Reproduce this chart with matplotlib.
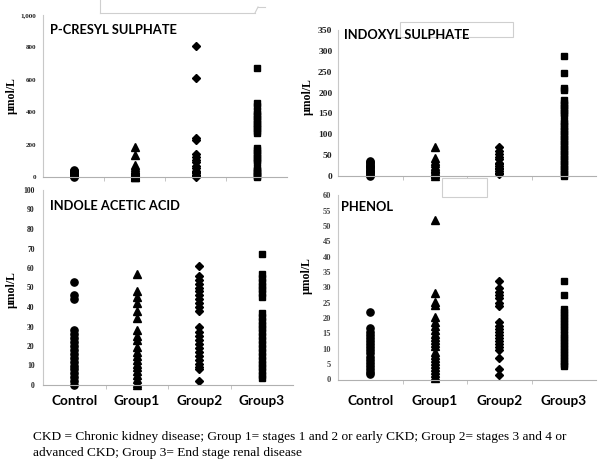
import matplotlib
matplotlib.use("Agg")
import matplotlib.pyplot as plt
from matplotlib.ticker import FuncFormatter, MultipleLocator
from matplotlib.patches import Rectangle
from matplotlib.lines import Line2D

W, H = 604, 459

groups = ["Control", "Group1", "Group2", "Group3"]

# P-cresyl sulphate (umol/L)
pcs_control = [2, 5, 8, 10, 14, 18, 22, 25, 30, 34, 38, 42]
pcs_group1 = [185, 138, 72, 60, 50, 42, 35, 28, 22, 16, 10, 5, 2, 0]
pcs_group2 = [808, 610, 240, 228, 140, 125, 108, 95, 70, 55, 40, 30, 22, 15, 8, 3]
pcs_group3 = [670, 455, 440, 405, 390, 375, 360, 345, 330, 315, 300, 285, 272,
              178, 165, 150, 135, 120, 105, 90, 58, 45, 35, 25, 15, 5, 0]

# Indoxyl sulphate
ind_control = [0, 3, 6, 9, 12, 15, 18, 21, 24, 27, 30, 33, 35]
ind_group1 = [70, 42, 36, 30, 25, 20, 16, 12, 8, 4, 0]
ind_group2 = [70, 60, 52, 46, 40, 32, 28, 24, 20, 16, 12, 8, 5]
ind_group3 = [288, 247, 210, 205, 182, 176, 170, 164, 158, 152, 146, 133, 127,
              121, 113, 107, 101, 95, 89, 83, 77, 71, 65, 59, 53, 47, 41, 35,
              29, 23, 17, 11, 5, 0]

# Indole acetic acid
iaa_control = [53, 46, 44, 28, 26, 24, 22, 20, 18, 16, 14, 12, 10, 8, 6, 4, 2, 0]
iaa_group1 = [57, 48, 45, 42, 38, 34.5, 28, 25, 23, 19.5, 17, 15, 13, 11, 9, 7,
              5, 3, 1, 0]
iaa_group2 = [61, 56, 54, 52, 50, 48, 46, 44, 42, 40, 38, 30, 27, 25, 23, 21,
              19, 17, 15, 13, 11, 9, 8, 2]
iaa_group3 = [67, 57, 55, 53, 51, 49, 47, 45, 37, 35, 33, 31, 29, 27, 25, 23,
              21, 19, 17, 15, 13, 11, 9, 7, 5, 3.5]

# Phenol
phe_control = [22, 16.7, 15.5, 14.5, 13.5, 12.5, 11.5, 10.5, 9.5, 8.5, 7.5,
               6.5, 5.5, 4.5, 3.5, 2.5, 1.8]
phe_group1 = [52, 28.3, 25.4, 24.3, 20.5, 18.8, 17.5, 16, 15, 14, 13, 12, 11,
              9, 8, 7, 6, 5, 4, 3, 2, 1, 0.5]
phe_group2 = [32, 29.7, 28.5, 27.5, 26.5, 25, 24, 18.8, 17.5, 16.5, 15.5, 14.5,
              13.5, 12.5, 11.5, 10.5, 9.6, 6.9, 3.3, 1.5]
phe_group3 = [32, 27.5, 23, 22, 21, 20, 19, 18, 17, 16, 15, 14, 13, 12, 11, 10,
              9, 8, 7, 6, 5, 4.5]

caption = ["CKD = Chronic kidney disease; Group 1= stages 1 and 2 or early CKD; "
           "Group 2= stages 3 and 4 or",
           "advanced CKD; Group 3= End stage renal disease"]

MARKERS = [("o", 5.2), ("^", 5.6), ("D", 4.2), ("s", 4.8)]
SANS = "Lato"
SERIF = "Liberation Serif"


def box(x0, y0, x1, y1):
    # pixel box (top-left origin) -> figure fraction rect
    return [x0 / W, 1 - y1 / H, (x1 - x0) / W, (y1 - y0) / H]


def panel(rect, series, ymax, step, fmt, tick_size, tick_pad, show_x, xpad=0,
          tick_color="#222222"):
    ax = fig.add_axes(rect)
    for i, vals in enumerate(series):
        m, ms = MARKERS[i]
        ax.plot([i + 1] * len(vals), vals, linestyle="none", marker=m,
                markersize=ms, color="black", clip_on=False)
    ax.set_xlim(0.5, 4.5)
    ax.set_ylim(0, ymax)
    ax.yaxis.set_major_locator(MultipleLocator(step))
    ax.yaxis.set_major_formatter(FuncFormatter(lambda v, p: fmt.format(v)))
    ax.tick_params(axis="y", length=0, pad=tick_pad, labelsize=tick_size,
                   labelcolor=tick_color)
    for lab in ax.get_yticklabels():
        lab.set_fontfamily(SERIF)
        lab.set_fontweight("bold")
    ax.set_xticks([1.5, 2.5, 3.5], minor=True)
    ax.tick_params(axis="x", which="minor", length=3, color="#bbbbbb")
    if show_x:
        ax.set_xticks([1, 2, 3, 4])
        ax.set_xticklabels(groups, fontfamily=SANS, fontweight="bold", fontsize=9.8)
        ax.tick_params(axis="x", which="major", length=0, pad=xpad)
    else:
        ax.set_xticks([])
    for s in ("top", "right"):
        ax.spines[s].set_visible(False)
    ax.spines["left"].set_color("#c8c8c8")
    ax.spines["bottom"].set_color("#b0b0b0")
    return ax


fig = plt.figure(figsize=(W / 100, H / 100), dpi=100)

panel(box(43, 15, 287, 177), [pcs_control, pcs_group1, pcs_group2, pcs_group3],
      1000, 200, "{:,.0f}", 5.0, 5, False)
panel(box(338, 30, 596, 176), [ind_control, ind_group1, ind_group2, ind_group3],
      350, 50, "{:.0f}", 6.8, 4, False)
panel(box(43, 190, 293, 385), [iaa_control, iaa_group1, iaa_group2, iaa_group3],
      100, 10, "{:.0f}", 5.5, 6, True, xpad=7.5)
panel(box(338, 195.5, 596, 379.5), [phe_control, phe_group1, phe_group2, phe_group3],
      60, 5, "{:.0f}", 6.0, 5, True, xpad=11.5, tick_color="#444444")

# leftover bits of pasted boxes in the source image (behind the titles)
edge = "#cfcfcf"
for xs, ys in [([100, 100], [0, 13]), ([100, 255], [13, 13]),
               ([255, 258], [13, 7]), ([258, 265], [7, 7])]:
    fig.add_artist(Line2D([x / W for x in xs], [1 - y / H for y in ys],
                          color=edge, lw=0.8))
for x0, y0, x1, y1 in [(400, 22, 513, 37), (442, 178, 487, 197)]:
    fig.add_artist(Rectangle((x0 / W, 1 - y1 / H), (x1 - x0) / W, (y1 - y0) / H,
                             facecolor="white", edgecolor=edge, lw=0.8, zorder=2))

titles = [("P-CRESYL SULPHATE", 50, 30), ("INDOXYL SULPHATE", 344, 35),
          ("INDOLE ACETIC ACID", 50, 206), ("PHENOL", 341, 207)]
for t, x, y in titles:
    fig.text(x / W, 1 - y / H, t, fontfamily=SANS, fontweight="bold",
             fontsize=9.3, ha="left", va="center", zorder=5)

for x, y in [(12, 96), (308, 97), (12, 290), (307, 276)]:
    fig.text(x / W, 1 - y / H, "\u00b5mol/L", fontfamily=SERIF, fontweight="bold",
             fontsize=8.5, rotation=90, ha="center", va="center")

fig.text(33 / W, 1 - 437 / H, caption[0], fontfamily=SERIF, fontsize=9.6,
         ha="left", va="center")
fig.text(33 / W, 1 - 453 / H, caption[1], fontfamily=SERIF, fontsize=9.6,
         ha="left", va="center")

plt.savefig("out.png", dpi=100)
